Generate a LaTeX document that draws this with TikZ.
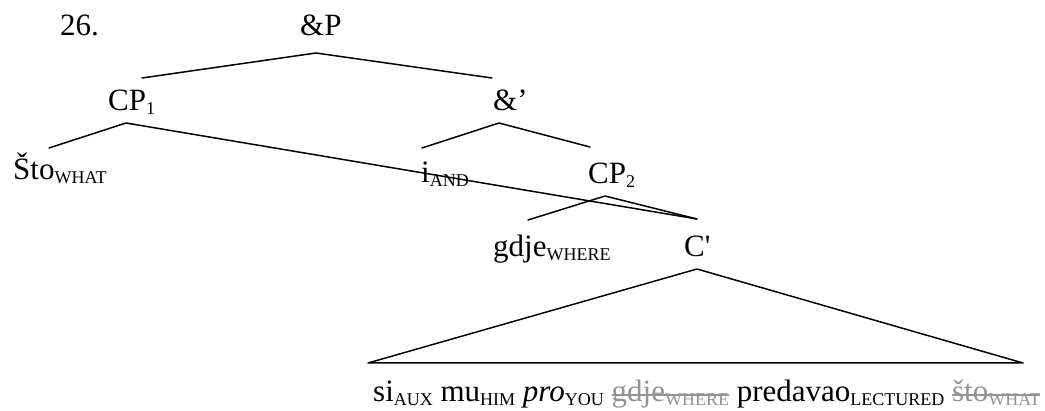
\documentclass[tikz,border=0pt]{standalone}
\usepackage{fontspec}
\setmainfont{Liberation Serif}
\definecolor{strikegray}{HTML}{939393}
\newcommand\lbl[1]{\raisebox{-0.1em}{\fontsize{18}{18}\selectfont #1}}
\newcommand\strk[1]{{\color{strikegray}\setbox0=\hbox{#1}\rlap{\copy0}\rule[0.2em]{\wd0}{0.05em}}}
\tikzset{
  word/.style={anchor=base west, inner sep=0pt, font=\fontsize{31}{36}\selectfont},
  branch/.style={line width=1.5pt, line cap=round, line join=round}
}
\begin{document}
\begin{tikzpicture}[x=1pt,y=-1pt]
\useasboundingbox (0,0) rectangle (1045,411);
% labels
\node[word] (num) at (60,36) {26.};
\node[word] (andP) at (300,36) {\&P};
\node[word] (cp1) at (108,111) {CP\lbl{1}};
\node[word] (andbar) at (493,111) {\&’};
\node[word] (sto) at (13,180) {Što\lbl{WHAT}};
\node[word] (i) at (421,183) {i\lbl{AND}};
\node[word] (cp2) at (588,184) {CP\lbl{2}};
\node[word] (gdje) at (493,257) {gdje\lbl{WHERE}};
\node[word] (cbar) at (684,257) {C\textquotesingle};
\node[word] (bottom) at (373,402) {si\lbl{AUX} mu\lbl{HIM} \textit{pro}\lbl{YOU} \strk{gdje\lbl{WHERE}} predavao\lbl{LECTURED} \strk{što\lbl{WHAT}}};
% branch points
\coordinate (andPtop) at (316,53);
\coordinate (cp1up) at (142,78);
\coordinate (andbarup) at (492,78);
\coordinate (cp1top) at (126,123);
\coordinate (stoup) at (49,148);
\coordinate (andbartop) at (499,123);
\coordinate (iup) at (422,148);
\coordinate (cp2up) at (590,147);
\coordinate (cp2top) at (605,196);
\coordinate (gdjeup) at (528,220);
\coordinate (cbarup) at (697,219);
\coordinate (cbartop) at (697,269);
\coordinate (triL) at (368,363);
\coordinate (triR) at (1023,363);
% branches
\draw[branch] (cp1up) -- (andPtop) -- (andbarup);
\draw[branch] (stoup) -- (cp1top) -- (cbarup);
\draw[branch] (iup) -- (andbartop) -- (cp2up);
\draw[branch] (gdjeup) -- (cp2top) -- (cbarup);
\draw[branch] (triL) -- (cbartop) -- (triR) -- cycle;
\end{tikzpicture}
\end{document}
